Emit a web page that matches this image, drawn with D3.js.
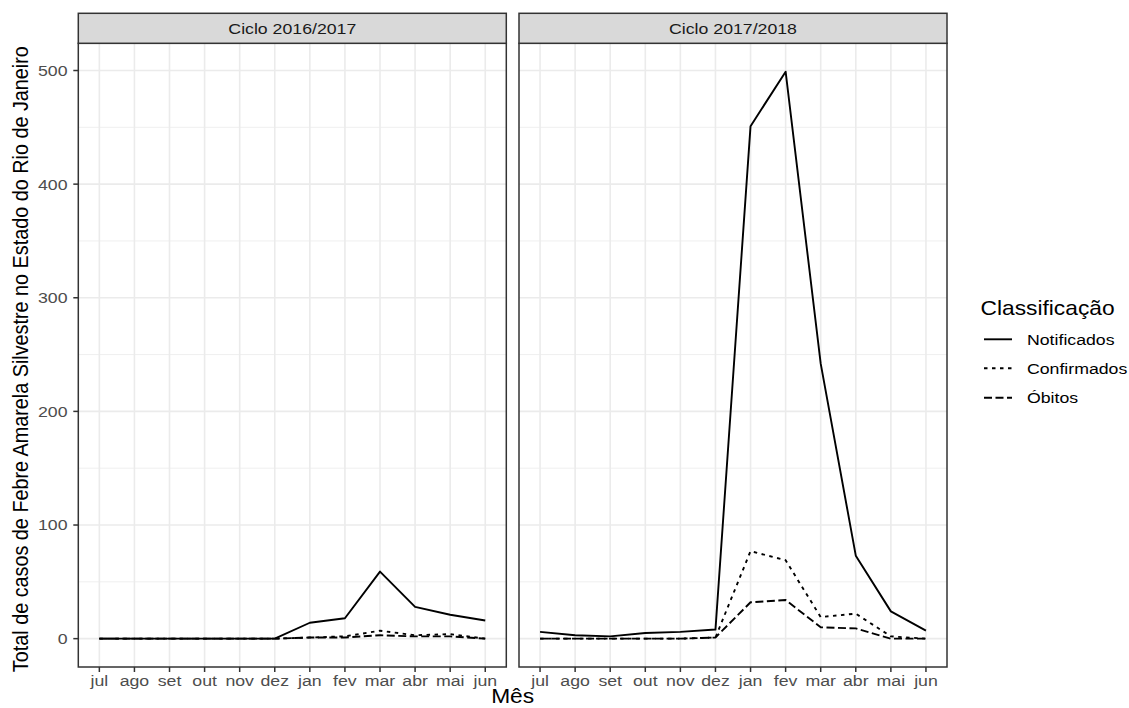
<!DOCTYPE html>
<html>
<head>
<meta charset="utf-8">
<script src="https://cdn.jsdelivr.net/npm/d3@7"></script>
<style>
  html, body { margin: 0; padding: 0; background: #ffffff; }
  svg { display: block; font-family: "Liberation Sans", Arial, sans-serif; }
</style>
</head>
<body>
<svg id="chart" width="1129" height="708"></svg>
<script>
// ---- data ----
const meses = ["jul","ago","set","out","nov","dez","jan","fev","mar","abr","mai","jun"];
const ciclos = ["Ciclo 2016/2017", "Ciclo 2017/2018"];
const classes = ["Notificados", "Confirmados", "Óbitos"];
const yTicks = [0, 100, 200, 300, 400, 500];
const yMinor = [50, 150, 250, 350, 450];

const notificados1617 = [0, 0, 0, 0, 0, 0, 14, 18, 59, 28, 21, 16];
const confirmados1617 = [0, 0, 0, 0, 0, 0, 1, 2, 7, 3, 4, 0];
const obitos1617      = [0, 0, 0, 0, 0, 0, 1, 1, 3, 2, 2, 0];

const notificados1718 = [6, 3, 2, 5, 6, 8, 451, 499, 242, 73, 24, 7];
const confirmados1718 = [0, 0, 0, 0, 0, 1, 77, 69, 19, 22, 2, 0];
const obitos1718      = [0, 0, 0, 0, 0, 1, 32, 34, 10, 9, 0, 0];

const series = [
  [notificados1617, confirmados1617, obitos1617],
  [notificados1718, confirmados1718, obitos1718]
];

// ---- styles ----
const dashes = { "Notificados": null, "Confirmados": "3.5,4.5", "Óbitos": "8,3.5" };
const SX = 1.15;           // horizontal text stretch of the reference
const tickFont = 15.4;
const titleFont = 19.8;
const lineW = 1.9;

const svg = d3.select("#chart");

function txt(g, x, y, s, o) {
  o = o || {};
  const t = g.append("text")
    .attr("transform", `translate(${x},${y}) scale(${SX},1)` + (o.rotate ? ` rotate(${o.rotate})` : ""))
    .attr("text-anchor", o.anchor || "start")
    .attr("font-size", o.size || tickFont)
    .attr("fill", o.fill || "#000")
    .text(s);
  return t;
}

// ---- layout ----
const panelTop = 43.3, panelBottom = 667, stripTop = 13.3;
const panels = [ { x0: 78.3, x1: 506.3 }, { x0: 519, x1: 947 } ];

const allVals = series.flat(2);
const yMax = d3.max(allVals), yMin = d3.min(allVals);
const pad = (yMax - yMin) * 0.05;
const y = d3.scaleLinear().domain([yMin - pad, yMax + pad]).range([panelBottom, panelTop]);

const line = d3.line();

panels.forEach((p, pi) => {
  const x = d3.scalePoint().domain(meses).range([p.x0, p.x1]).padding(0.6);
  const g = svg.append("g");

  g.append("rect").attr("x", p.x0).attr("y", panelTop).attr("width", p.x1 - p.x0)
    .attr("height", panelBottom - panelTop).attr("fill", "#fff");

  g.selectAll(".minor").data(yMinor).join("line")
    .attr("x1", p.x0).attr("x2", p.x1)
    .attr("y1", d => y(d)).attr("y2", d => y(d))
    .attr("stroke", "#ebebeb").attr("stroke-width", 0.8);
  g.selectAll(".majorY").data(yTicks).join("line")
    .attr("x1", p.x0).attr("x2", p.x1)
    .attr("y1", d => y(d)).attr("y2", d => y(d))
    .attr("stroke", "#ebebeb").attr("stroke-width", 1.6);
  g.selectAll(".majorX").data(meses).join("line")
    .attr("x1", d => x(d)).attr("x2", d => x(d))
    .attr("y1", panelTop).attr("y2", panelBottom)
    .attr("stroke", "#ebebeb").attr("stroke-width", 1.6);

  classes.forEach((c, ci) => {
    const vals = series[pi][ci];
    g.append("path")
      .attr("d", line(meses.map((m, i) => [x(m), y(vals[i])])))
      .attr("fill", "none")
      .attr("stroke", "#000")
      .attr("stroke-width", lineW)
      .attr("stroke-linejoin", "round")
      .attr("stroke-dasharray", dashes[c]);
  });

  g.append("rect").attr("x", p.x0).attr("y", panelTop).attr("width", p.x1 - p.x0)
    .attr("height", panelBottom - panelTop).attr("fill", "none")
    .attr("stroke", "#333333").attr("stroke-width", 1.5);

  g.append("rect").attr("x", p.x0).attr("y", stripTop).attr("width", p.x1 - p.x0)
    .attr("height", panelTop - stripTop).attr("fill", "#d9d9d9")
    .attr("stroke", "#333333").attr("stroke-width", 1.5);
  txt(g, (p.x0 + p.x1) / 2, (stripTop + panelTop) / 2 + 5.4, ciclos[pi],
    { anchor: "middle", fill: "#1a1a1a" });

  const ax = g.append("g");
  ax.selectAll("line").data(meses).join("line")
    .attr("x1", d => x(d)).attr("x2", d => x(d))
    .attr("y1", panelBottom).attr("y2", panelBottom + 5)
    .attr("stroke", "#333333").attr("stroke-width", 1.5);
  meses.forEach(m => txt(ax, x(m), 686, m, { anchor: "middle", fill: "#4d4d4d" }));
});

const ay = svg.append("g");
ay.selectAll("line").data(yTicks).join("line")
  .attr("x1", panels[0].x0 - 5).attr("x2", panels[0].x0)
  .attr("y1", d => y(d)).attr("y2", d => y(d))
  .attr("stroke", "#333333").attr("stroke-width", 1.5);
yTicks.forEach(t => txt(ay, 67.5, y(t) + 5.4, String(t), { anchor: "end", fill: "#4d4d4d" }));

txt(svg, 28, (panelTop + panelBottom) / 2 + 4,
  "Total de casos de Febre Amarela Silvestre no Estado do Rio de Janeiro",
  { anchor: "middle", size: titleFont, rotate: -90 });
txt(svg, (panels[0].x0 + panels[1].x1) / 2, 703, "Mês", { anchor: "middle", size: titleFont });

const lg = svg.append("g");
txt(lg, 980.5, 315, "Classificação", { size: titleFont });
const legY = [339.3, 368.3, 397.7];
classes.forEach((c, i) => {
  lg.append("line").attr("x1", 984).attr("x2", 1012)
    .attr("y1", legY[i]).attr("y2", legY[i])
    .attr("stroke", "#000").attr("stroke-width", lineW)
    .attr("stroke-dasharray", dashes[c]);
  txt(lg, 1027, legY[i] + 5.4, c, {});
});
</script>
</body>
</html>
